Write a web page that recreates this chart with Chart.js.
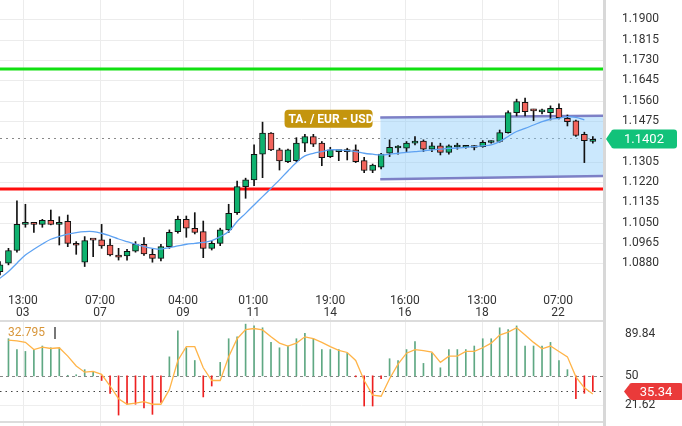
<!DOCTYPE html>
<html>
<head>
<meta charset="utf-8">
<script src="https://cdn.jsdelivr.net/npm/chart.js@4"></script>
<style>
body{margin:0;background:#fff;font-family:Roboto,Arial,sans-serif}
#top{position:absolute;left:0;top:0;width:682px;height:318px}
#bot{position:absolute;left:0;top:318px;width:682px;height:108px}
</style>
</head>
<body>
<div id="top"><canvas id="price"></canvas></div>
<div id="bot"><canvas id="rsi"></canvas></div>
<script>
// candles, oldest first
const opens  = [1.0846,1.0881,1.0934,1.1043,1.1045,1.1043,1.1060,1.1043,1.1056,1.0964,1.0885,1.0978,1.0978,1.0957,1.0915,1.0911,1.0931,1.0960,1.0918,1.0901,1.0950,1.1013,1.1064,1.1027,1.1013,1.0943,1.0964,1.1020,1.1092,1.1201,1.1229,1.1336,1.1424,1.1354,1.1305,1.1309,1.1382,1.1410,1.1382,1.1326,1.1347,1.1347,1.1354,1.1309,1.1268,1.1282,1.1340,1.1362,1.1361,1.1382,1.1391,1.1357,1.1371,1.1344,1.1366,1.1365,1.1364,1.1368,1.1385,1.1389,1.1426,1.1510,1.1553,1.1518,1.1513,1.1510,1.1528,1.1486,1.1475,1.1419,1.1389]
const highs  = [1.0888,1.0943,1.1141,1.1127,1.1048,1.1064,1.1103,1.1075,1.1082,1.0971,1.0992,1.0978,1.1043,1.0982,1.0943,1.0939,1.0971,1.0988,1.0939,1.0960,1.1020,1.1078,1.1078,1.1092,1.1057,1.0974,1.1027,1.1127,1.1224,1.1236,1.1375,1.1470,1.1426,1.1361,1.1357,1.1405,1.1419,1.1419,1.1389,1.1365,1.1350,1.1361,1.1375,1.1323,1.1295,1.1340,1.1396,1.1372,1.1389,1.1410,1.1396,1.1385,1.1382,1.1375,1.1382,1.1372,1.1372,1.1393,1.1392,1.1437,1.1517,1.1566,1.1570,1.1524,1.1524,1.1538,1.1546,1.1500,1.1479,1.1428,1.1410]
const lows   = [1.0832,1.0874,1.0927,1.1031,1.1009,1.1031,1.1041,1.0957,1.0950,1.0918,1.0867,1.0908,1.0943,1.0911,1.0894,1.0894,1.0927,1.0913,1.0885,1.0890,1.0943,1.1006,1.0989,1.1003,1.0904,1.0936,1.0954,1.1009,1.1085,1.1152,1.1205,1.1238,1.1351,1.1270,1.1301,1.1305,1.1347,1.1368,1.1288,1.1322,1.1309,1.1312,1.1301,1.1259,1.1259,1.1275,1.1326,1.1336,1.1347,1.1375,1.1347,1.1347,1.1333,1.1336,1.1357,1.1361,1.1354,1.1365,1.1382,1.1386,1.1424,1.1496,1.1496,1.1476,1.1504,1.1479,1.1483,1.1454,1.1410,1.1301,1.1382]
const closes = [1.0874,1.0934,1.1043,1.1048,1.1043,1.1060,1.1043,1.1052,1.0964,1.0956,1.0975,1.0977,1.0953,1.0915,1.0906,1.0931,1.0960,1.0920,1.0901,1.0950,1.1010,1.1064,1.1027,1.1009,1.0943,1.0964,1.1020,1.1089,1.1201,1.1229,1.1336,1.1424,1.1354,1.1308,1.1354,1.1382,1.1410,1.1378,1.1322,1.1354,1.1348,1.1354,1.1305,1.1268,1.1291,1.1337,1.1365,1.1364,1.1382,1.1391,1.1357,1.1371,1.1344,1.1371,1.1368,1.1366,1.1365,1.1386,1.1386,1.1426,1.1510,1.1556,1.1514,1.1517,1.1514,1.1528,1.1489,1.1472,1.1414,1.1393,1.1398]
const movingAvg = [1.0818,1.0846,1.0881,1.0915,1.0939,1.0961,1.0981,1.0992,1.1002,1.1009,1.1013,1.1013,1.1006,1.0995,1.0982,1.0971,1.0961,1.0950,1.0943,1.0940,1.0946,1.0953,1.0960,1.0964,1.0968,1.0975,1.0992,1.1013,1.1055,1.1089,1.1124,1.1159,1.1194,1.1229,1.1266,1.1301,1.1329,1.1340,1.1347,1.1354,1.1354,1.1351,1.1347,1.1340,1.1336,1.1333,1.1336,1.1340,1.1344,1.1347,1.1350,1.1354,1.1357,1.1360,1.1362,1.1365,1.1368,1.1371,1.1375,1.1389,1.1410,1.1431,1.1444,1.1458,1.1472,1.1482,1.1486,1.1493,1.1490,1.1479,null]

const resistance = 1.1692
const support = 1.1191
const lastPrice = 1.1402
const channelX = [44.9, 72]
const channelTop = [1.1489, 1.1497]
const channelBottom = [1.1231, 1.1245]

const priceTicks = [1.0880,1.0965,1.1050,1.1135,1.1220,1.1305,1.1475,1.1560,1.1645,1.1730,1.1815,1.1900]
const timePos = [2.7,11.8,21.6,29.9,39,47.8,56.9,65.9]
const timeLabels = [["13:00","03"],["07:00","07"],["04:00","09"],["01:00","11"],["19:00","14"],["16:00","16"],["13:00","18"],["07:00","22"]]

// oscillator, one value per candle from the 2nd
const oscBars = [85.6,75.2,73.4,75.2,78.6,76.9,76.9,50.5,51,55.9,54.2,45.5,33.2,12.3,22.7,22.7,19.2,13,24.5,68.2,93.3,76.9,64.7,29.7,40.2,62.9,85.6,87.4,99.6,97.9,96.1,82.1,76.9,78.6,85.6,90.9,85.6,75.2,75.2,75.2,71.7,49,21,21,47.2,66.4,64.7,75.2,82.8,61.9,71.7,57.7,75.2,75.2,75.2,78.6,85.6,85.6,96.1,94.4,97.9,78.6,78.6,78.6,82.1,64.7,55.9,28,33.2,35]
const oscLine = [84.2,83.5,82.1,75.2,77.6,76.2,76.9,68.9,59.4,53.5,54.2,51.4,40.2,28,22.7,23.8,25.2,22.7,22.7,36.7,64.7,78,78,57.7,45.5,45.5,68.2,85.6,94.4,95.4,94,87.4,81.4,78.6,81.4,87.4,85.6,82.1,78,74.5,72.4,64.7,45.5,31.5,30.4,47.2,61.2,71.7,75.2,74.1,72.7,62.9,68.9,68.9,73.4,73.4,76.9,81.4,89.1,91.9,96.1,89.1,82.1,75.9,78.6,73.4,68.2,49,38.5,32.5]
const oscTicks = [89.84, 50, 21.62]
const oscLast = 35.34
const oscTitle = "32.795"

const GREEN = '#0fb26f'
const RED = '#f2645c'
const X_MAX = 71.2
const AXIS_W = 79

function tag(ctx, x, y, w, h, color, text, arrow){
    ctx.save()
    ctx.fillStyle = color
    ctx.beginPath()
    if(ctx.roundRect){ ctx.roundRect(x, y, w, h, 3) } else { ctx.rect(x, y, w, h) }
    ctx.fill()
    if(arrow){
        ctx.beginPath()
        ctx.moveTo(x, y+2); ctx.lineTo(x-5, y+h/2); ctx.lineTo(x, y+h-2); ctx.fill()
    }
    ctx.fillStyle = '#fff'
    ctx.font = '13px Roboto'
    ctx.textAlign = 'center'
    ctx.textBaseline = 'middle'
    ctx.fillText(text, x+w/2, y+h/2+1)
    ctx.restore()
}

function vGrid(chart){
    const {ctx, chartArea, scales} = chart
    ctx.save()
    ctx.strokeStyle = '#ececec'
    ctx.lineWidth = 1
    timePos.forEach(p => {
        const x = Math.round(scales.x.getPixelForValue(p)) + 0.5
        ctx.beginPath(); ctx.moveTo(x, chartArea.top); ctx.lineTo(x, chartArea.bottom); ctx.stroke()
    })
    ctx.strokeStyle = '#d8d8d8'
    ctx.lineWidth = 3
    ctx.beginPath(); ctx.moveTo(chartArea.right+1.5, 0); ctx.lineTo(chartArea.right+1.5, chart.height); ctx.stroke()
    ctx.restore()
}

// right-hand labels drawn by hand so the plot area stays exact
function yLabels(chart, ticks, fmt, x){
    const {ctx, scales} = chart
    ctx.save()
    ctx.fillStyle = '#333'
    ctx.font = '12px Roboto'
    ctx.textBaseline = 'middle'
    ticks.forEach(t => ctx.fillText(fmt(t), x, scales.y.getPixelForValue(t)))
    ctx.restore()
}

const idx = opens.map((_, i) => i)
const up = idx.map(i => closes[i] >= opens[i])

const pricePlugin = {
    id: 'pricePlugin',
    beforeDatasetsDraw(chart){
        const {ctx, chartArea, scales} = chart
        vGrid(chart)
        ctx.save()
        ctx.strokeStyle = '#ececec'
        priceTicks.forEach(t => {
            const y = Math.round(scales.y.getPixelForValue(t)) + 0.5
            ctx.beginPath(); ctx.moveTo(chartArea.left, y); ctx.lineTo(chartArea.right, y); ctx.stroke()
        })
        const y = Math.round(scales.y.getPixelForValue(lastPrice)) + 0.5
        ctx.strokeStyle = '#888'
        ctx.setLineDash([2, 4])
        ctx.beginPath(); ctx.moveTo(chartArea.left, y); ctx.lineTo(chartArea.right, y); ctx.stroke()
        ctx.restore()
    },
    afterDraw(chart){
        const {ctx, chartArea, scales} = chart
        yLabels(chart, priceTicks, v => v.toFixed(4), chartArea.right + 19)
        ctx.save()
        ctx.fillStyle = '#333'
        ctx.font = '12px Roboto'
        ctx.textAlign = 'center'
        timePos.forEach((p, k) => {
            const x = scales.x.getPixelForValue(p)
            ctx.fillText(timeLabels[k][0], x, chartArea.bottom + 14)
            ctx.fillText(timeLabels[k][1], x, chartArea.bottom + 26)
        })
        ctx.restore()
        const y = scales.y.getPixelForValue(lastPrice)
        tag(ctx, chartArea.right+8, y-9, 66, 19, '#12c27a', lastPrice.toFixed(4), true)
        const lx = scales.x.getPixelForValue(33.6)
        const ly = scales.y.getPixelForValue(1.1484)
        ctx.save()
        ctx.fillStyle = '#c4950e'
        ctx.beginPath()
        if(ctx.roundRect){ ctx.roundRect(lx, ly-9, 88, 18, 4) } else { ctx.rect(lx, ly-9, 88, 18) }
        ctx.fill()
        ctx.fillStyle = '#fff'
        ctx.font = 'bold 12px Roboto'
        ctx.textBaseline = 'middle'
        ctx.fillText('TA. / EUR - USD', lx+4, ly+1)
        ctx.restore()
    }
}

new Chart(document.getElementById('price'), {
    type: 'bar',
    data: {
        datasets: [
            {type: 'line', data: [{x: -1, y: resistance}, {x: 80, y: resistance}], borderColor: '#11e011', borderWidth: 3, pointRadius: 0, order: 5},
            {type: 'line', data: [{x: -1, y: support}, {x: 80, y: support}], borderColor: '#ff0d0d', borderWidth: 3, pointRadius: 0, order: 5},
            {type: 'line', data: channelX.map((x, i) => ({x, y: channelBottom[i]})), borderColor: '#7d80c6', borderWidth: 2.5, pointRadius: 0, order: 6},
            {type: 'line', data: channelX.map((x, i) => ({x, y: channelTop[i]})), borderColor: '#7d80c6', borderWidth: 2.5, pointRadius: 0, fill: '-1', backgroundColor: 'rgba(140,205,250,0.45)', order: 6},
            {type: 'line', data: idx.map(i => ({x: i, y: movingAvg[i]})), borderColor: '#5ea2f2', borderWidth: 1.3, pointRadius: 0, tension: 0.4, order: 1},
            {data: idx.map(i => ({x: i, y: [lows[i], highs[i]]})), backgroundColor: '#111', barThickness: 1, grouped: false, order: 3},
            {data: idx.map(i => ({x: i, y: [opens[i], closes[i]]})), backgroundColor: idx.map(i => up[i] ? GREEN : RED),
             borderColor: '#111', borderWidth: 1, borderSkipped: false, barThickness: 6, minBarLength: 2, grouped: false, order: 2}
        ]
    },
    options: {
        responsive: true, maintainAspectRatio: false, animation: false,
        layout: {padding: {left: 0, top: 0, right: AXIS_W, bottom: 28}},
        plugins: {legend: {display: false}, tooltip: {enabled: false}},
        scales: {
            x: {type: 'linear', min: 0, max: X_MAX, offset: false, display: false},
            y: {min: 1.0769, max: 1.1980, display: false}
        }
    },
    plugins: [pricePlugin]
})

const oscPlugin = {
    id: 'oscPlugin',
    beforeDatasetsDraw(chart){
        const {ctx, chartArea, scales} = chart
        vGrid(chart)
        ctx.save()
        ctx.strokeStyle = '#dcdcdc'; ctx.lineWidth = 2
        ctx.beginPath(); ctx.moveTo(0, 3); ctx.lineTo(chartArea.right, 3); ctx.stroke()
        ctx.beginPath(); ctx.moveTo(0, chart.height-4); ctx.lineTo(chartArea.right, chart.height-4); ctx.stroke()
        ctx.lineWidth = 1
        let y = Math.round(scales.y.getPixelForValue(21.62)) + 0.5
        ctx.strokeStyle = '#eee'
        ctx.beginPath(); ctx.moveTo(chartArea.left, y); ctx.lineTo(chartArea.right, y); ctx.stroke()
        ctx.strokeStyle = '#888'
        ctx.setLineDash([3, 3])
        y = Math.round(scales.y.getPixelForValue(50)) + 0.5
        ctx.beginPath(); ctx.moveTo(chartArea.left, y); ctx.lineTo(chartArea.right, y); ctx.stroke()
        ctx.strokeStyle = '#444'
        ctx.setLineDash([1.5, 4])
        y = Math.round(scales.y.getPixelForValue(oscLast)) + 0.5
        ctx.beginPath(); ctx.moveTo(chartArea.left, y); ctx.lineTo(chartArea.right, y); ctx.stroke()
        ctx.restore()
    },
    afterDraw(chart){
        const {ctx, chartArea, scales} = chart
        yLabels(chart, oscTicks, v => String(v), chartArea.right + 22)
        const y = scales.y.getPixelForValue(oscLast)
        tag(ctx, chartArea.right+26, y-8, 54, 17, '#ea3a3a', oscLast.toFixed(2), true)
        ctx.save()
        ctx.fillStyle = '#d8963a'
        ctx.font = '12px Roboto'
        ctx.textBaseline = 'middle'
        ctx.fillText(oscTitle, 8, 15)
        ctx.fillStyle = '#777'
        ctx.fillRect(54, 9, 2, 12)
        ctx.restore()
    }
}

new Chart(document.getElementById('rsi'), {
    type: 'bar',
    data: {
        datasets: [
            {type: 'line', data: oscLine.map((v, k) => ({x: k+1, y: v})), borderColor: '#ffb448', borderWidth: 1.3, pointRadius: 0, order: 1},
            {data: oscBars.map((v, k) => ({x: k+1, y: [50, v]})), backgroundColor: oscBars.map(v => v >= 50 ? '#5fa883' : '#ee2020'),
             barThickness: 1, order: 2}
        ]
    },
    options: {
        responsive: true, maintainAspectRatio: false, animation: false,
        layout: {padding: {left: 0, top: 0, right: AXIS_W, bottom: 0}},
        plugins: {legend: {display: false}, tooltip: {enabled: false}},
        scales: {
            x: {type: 'linear', min: 0, max: X_MAX, offset: false, display: false},
            y: {min: 1.8, max: 105.5, display: false}
        }
    },
    plugins: [oscPlugin]
})
</script>
</body>
</html>
